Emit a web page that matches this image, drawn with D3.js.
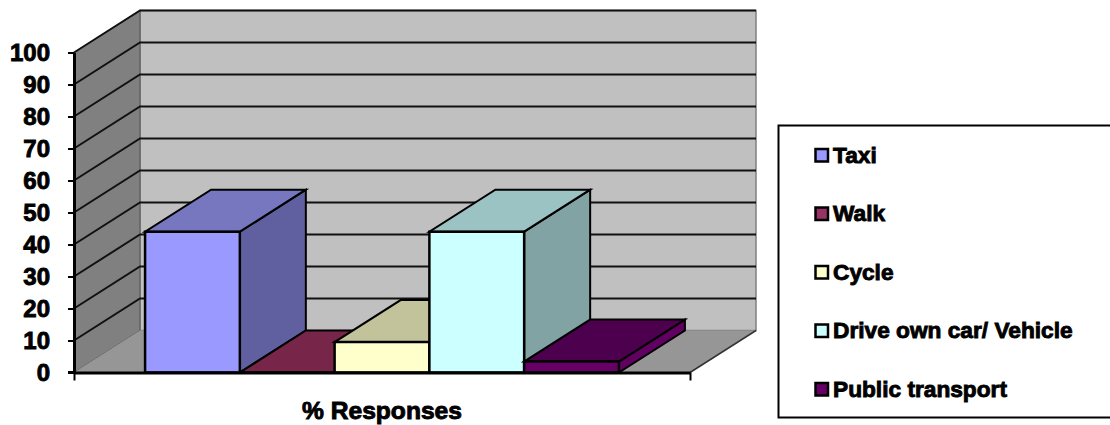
<!DOCTYPE html>
<html>
<head>
<meta charset="utf-8">
<script src="https://cdn.jsdelivr.net/npm/d3@7"></script>
<style>
html,body{margin:0;padding:0;background:#fff;overflow:hidden}
text{font-family:"Liberation Sans",Arial,sans-serif;font-weight:bold;fill:#000;stroke:#000;stroke-width:.9px}
</style>
</head>
<body>
<svg id="chart" width="1110" height="425"></svg>
<script>
// Survey shares by mode of transport
const categories = ["Taxi", "Walk", "Cycle", "Drive own car/ Vehicle", "Public transport"];
const responses = [44, 0, 9.5, 44, 3.4];
const yTicks = [0, 10, 20, 30, 40, 50, 60, 70, 80, 90, 100];
const axisTitle = "% Responses";

const frontColors = ["#9999ff", "#993366", "#ffffcc", "#ccffff", "#660066"];
const topColors = ["#7777c0", "#772649", "#c3c39b", "#9cc3c3", "#4d004d"];
const sideColors = ["#6060a0", "#602040", "#a0a080", "#82a3a3", "#600060"];

const svg = d3.select("#chart");

const x = d3.scaleBand().domain(categories).range([74, 690]).paddingInner(0).paddingOuter(0.75);
const y = d3.scaleLinear().domain([0, 100]).range([372.5, 52.5]);

// Oblique offset of the chart's depth axis
const depthX = 66, depthY = -42;
const left = x.range()[0], right = x.range()[1];
const line = d3.line();
const back = ([px, py]) => [px + depthX, py + depthY];

// Walls and floor
function face(points, fill, stroke, width) {
  return svg.append("path").attr("d", line(points) + "Z")
    .attr("fill", fill).attr("stroke", stroke || "none").attr("stroke-width", width || 0);
}
const bottomFront = [[left, y(0)], [right, y(0)]];
const topBack = [back([left, y(100)]), back([right, y(100)])];
face([topBack[0], topBack[1], back([right, y(0)]), back([left, y(0)])], "#c0c0c0", "#808080", 1.5);
face([[left, y(100)], topBack[0], back([left, y(0)]), [left, y(0)]], "#808080", "#555", 1);
face([bottomFront[0], bottomFront[1], back(bottomFront[1]), back(bottomFront[0])], "#969696");
svg.append("path").attr("d", line([bottomFront[1], back(bottomFront[1])]))
  .attr("stroke", "#333").attr("stroke-width", 1.5).attr("fill", "none");

// Gridlines run along the side wall and across the back wall
svg.append("g").selectAll("path")
  .data(yTicks.filter(d => d > 0))
  .join("path")
  .attr("d", d => line([[left, y(d)], back([left, y(d)]), back([right, y(d)])]))
  .attr("fill", "none")
  .attr("stroke", "#111")
  .attr("stroke-width", 2);

// Bars, painted left to right so nearer faces overlap
categories.forEach((c, i) => {
  const x0 = x(c), x1 = x0 + x.bandwidth();
  const yTop = y(responses[i]), yBase = y(0);
  const g = "#000";
  face([[x1, yTop], back([x1, yTop]), back([x1, yBase]), [x1, yBase]], sideColors[i], g, 2);
  face([[x0, yTop], [x1, yTop], back([x1, yTop]), back([x0, yTop])], topColors[i], g, 2);
  face([[x0, yTop], [x1, yTop], [x1, yBase], [x0, yBase]], frontColors[i], g, 2.5);
});

// Value axis
const yAxis = svg.append("g")
  .attr("transform", `translate(${left},0)`)
  .call(d3.axisLeft(y).tickValues(yTicks).tickSizeInner(6).tickSizeOuter(0).tickPadding(18));
yAxis.select(".domain").attr("stroke", "#000").attr("stroke-width", 3);
yAxis.selectAll(".tick line").attr("stroke", "#000").attr("stroke-width", 2);
yAxis.selectAll("text").style("font-size", "24px");

// Category axis with only its two end ticks
const xEnds = d3.scaleLinear().domain([0, 1]).range([left, right]);
const xAxis = svg.append("g")
  .attr("transform", `translate(0,${y(0)})`)
  .call(d3.axisBottom(xEnds).tickValues([0, 1]).tickFormat("").tickSizeInner(8).tickSizeOuter(0));
xAxis.select(".domain").attr("stroke", "#000").attr("stroke-width", 3);
xAxis.selectAll(".tick line").attr("stroke", "#000").attr("stroke-width", 2);
svg.append("path").attr("d", line([[68, y(0)], [left, y(0)]])).attr("stroke", "#000").attr("stroke-width", 3);

svg.append("text").attr("x", 382).attr("y", 419)
  .attr("text-anchor", "middle").style("font-size", "24.6px").text(axisTitle);

// Legend
svg.append("rect").attr("x", 778.5).attr("y", 125.5).attr("width", 340).attr("height", 292)
  .attr("fill", "#fff").attr("stroke", "#000").attr("stroke-width", 2);
const legendY = d3.scalePoint().domain(categories).range([155, 389]);
const entry = svg.append("g").selectAll("g").data(categories).join("g")
  .attr("transform", d => `translate(0,${legendY(d)})`);
entry.append("rect").attr("x", 815.5).attr("y", -6).attr("width", 12.5).attr("height", 12.5)
  .attr("fill", (d, i) => frontColors[i]).attr("stroke", "#000").attr("stroke-width", 2.5);
entry.append("text").attr("x", 833).attr("y", 7.5).style("font-size", "22.7px").text(d => d);
</script>
</body>
</html>
